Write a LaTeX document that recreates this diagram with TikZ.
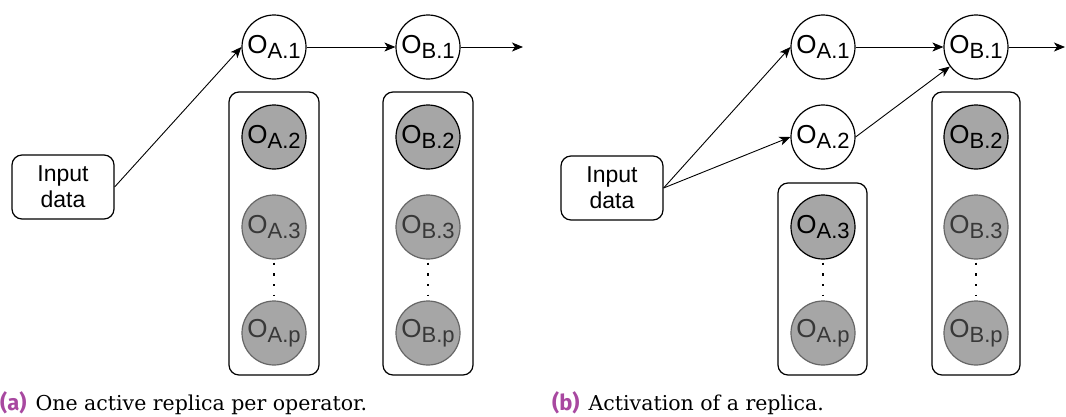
\documentclass[tikz,border=0pt]{standalone}
\usepackage{fontspec}
\newfontfamily\nodefont{Liberation Sans}
\newfontfamily\capfont{DejaVu Serif}
\newfontfamily\sublabelfont{Fira Sans}
\usetikzlibrary{arrows.meta}
\definecolor{sublabel}{RGB}{168,72,160}
\newcommand{\opname}[1]{O\raisebox{-5.5pt}{\fontsize{22}{22}\selectfont #1}}

\tikzset{
  op/.style={circle,draw,line width=1.2pt,minimum size=64pt,inner sep=0pt,
    font=\nodefont\fontsize{26}{30}\selectfont},
  active/.style={op,fill=white},
  standby/.style={op,fill=black!35},
  idle/.style={op,fill=black!35,draw=black!60,text=black!78},
  inbox/.style={draw,line width=1.2pt,rounded corners=10pt,minimum width=102pt,
    minimum height=64pt,align=center,font=\nodefont\fontsize{23}{26}\selectfont},
  group/.style={line width=1.2pt,rounded corners=10pt},
  flow/.style={line width=0.9pt,-{Stealth[length=11pt,width=9pt,inset=3pt]}},
  dotline/.style={line width=2.2pt,dash pattern=on 2.2pt off 8.5pt,
    shorten <=3pt,shorten >=5pt},
  caption/.style={anchor=base west,inner sep=0pt,font=\capfont\fontsize{20.5}{24}\selectfont}
}

\begin{document}
\begin{tikzpicture}[x=1pt,y=-1pt]
  \useasboundingbox (0,0) rectangle (1066,416);

  % (a) one active replica per operator
  \node[inbox] (in_a) at (63,187) {Input\\data};
  \node[active] (OA1a) at (274,47) {\opname{A.1}};
  \node[active] (OB1a) at (428,47) {\opname{B.1}};
  \coordinate (out_a) at (523,47);
  \draw[group] (229,92) rectangle (319,375);
  \draw[group] (383,92) rectangle (473,375);
  \foreach \c/\x in {A/274,B/428}
  {
    \node[standby] (O\c2a) at (\x,137) {\opname{\c.2}};
    \node[idle] (O\c3a) at (\x,227) {\opname{\c.3}};
    \node[idle] (O\c pa) at (\x,333) {\opname{\c.p}};
    \draw[dotline] (O\c3a.south) -- (O\c pa.north);
  }
  \draw[flow] (in_a.east) -- (OA1a.west);
  \draw[flow] (OA1a) -- (OB1a);
  \draw[flow] (OB1a) -- (out_a);
  \node[caption] (cap_a) at (0,410)
    {{\sublabelfont\bfseries\fontsize{22}{24}\selectfont\color{sublabel}(a)}\hspace{9pt}One active replica per operator.};

  % (b) activation of a replica
  \node[inbox] (in_b) at (612,188) {Input\\data};
  \node[active] (OA1b) at (823,47) {\opname{A.1}};
  \node[active] (OA2b) at (823,137) {\opname{A.2}};
  \node[active] (OB1b) at (976,47) {\opname{B.1}};
  \coordinate (out_b) at (1065,47);
  \draw[group] (778,183) rectangle (867,375);
  \draw[group] (932,92) rectangle (1020,375);
  \node[standby] (OA3b) at (823,227) {\opname{A.3}};
  \node[idle] (OApb) at (823,333) {\opname{A.p}};
  \draw[dotline] (OA3b.south) -- (OApb.north);
  \node[standby] (OB2b) at (976,137) {\opname{B.2}};
  \node[idle] (OB3b) at (976,227) {\opname{B.3}};
  \node[idle] (OBpb) at (976,333) {\opname{B.p}};
  \draw[dotline] (OB3b.south) -- (OBpb.north);
  \draw[flow] (in_b.east) -- (OA1b.west);
  \draw[flow] (in_b.east) -- (OA2b.west);
  \draw[flow] (OA2b.east) -- (OB1b);
  \draw[flow] (OA1b) -- (OB1b);
  \draw[flow] (OB1b) -- (out_b);
  \node[caption] (cap_b) at (552,410)
    {{\sublabelfont\bfseries\fontsize{22}{24}\selectfont\color{sublabel}(b)}\hspace{9pt}Activation of a replica.};
\end{tikzpicture}
\end{document}
